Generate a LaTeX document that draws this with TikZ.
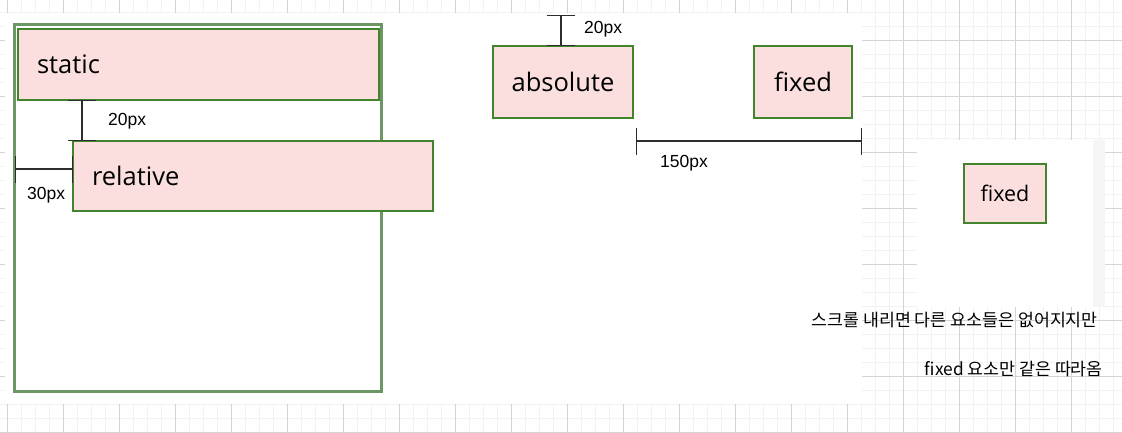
\documentclass[tikz,border=0pt]{standalone}
\usepackage{fontspec}
\setmainfont{Open Sans}
\newfontfamily\dimfont{Liberation Sans}
\newfontfamily\kofont{Noto Sans CJK KR}
\usepackage{tikz}
\usetikzlibrary{arrows.meta,positioning}
\definecolor{gridminor}{RGB}{242,242,242}
\definecolor{gridmajor}{RGB}{212,212,212}
\definecolor{boxfill}{RGB}{250,223,222}
\definecolor{boxline}{RGB}{66,132,44}
\definecolor{contline}{RGB}{108,150,100}
\definecolor{dimline}{RGB}{45,45,45}
\definecolor{stripe}{RGB}{245,245,245}

\begin{document}
\begin{tikzpicture}[x=1pt,y=-1pt,
  box/.style={draw=boxline,line width=2pt,fill=boxfill,outer sep=0pt,font=\fontsize{25.5}{30}\selectfont},
  dim/.style={draw=dimline,line width=1.3pt,{Bar[width=28pt]}-{Bar[width=28pt]}},
  dimlbl/.style={font=\dimfont\fontsize{17.5}{20}\selectfont,inner sep=0pt,anchor=west},
  kotxt/.style={font=\kofont\fontsize{17.3}{20}\selectfont,inner sep=0pt,anchor=east}]
\useasboundingbox (0,0) rectangle (1122,432);
% grid
\foreach \x in {7,21,...,1122} \draw[gridminor] (\x,0) -- (\x,432);
\foreach \y in {12,26,...,432} \draw[gridminor] (0,\y) -- (1122,\y);
\foreach \x in {7,63,...,1122} \draw[gridmajor] (\x,0) -- (\x,432);
\foreach \y in {40,96,...,432} \draw[gridmajor] (0,\y) -- (1122,\y);
% pages
\fill[white] (5,13) rectangle (862,404);
\fill[white] (917,140) rectangle (1093,307);
\fill[stripe] (1093,140) rectangle (1105,307);

\node[draw=contline,line width=3pt,minimum width=367pt,minimum height=367pt,outer sep=0pt,fill=white] (cont) at (198,208) {};
\node[box,text width=323pt,align=left,inner xsep=19pt,minimum height=71pt] (static) at (198.5,64.5) {static};
\node[box,text width=322pt,align=left,inner xsep=19pt,minimum height=70pt] (relative) at (253,176) {relative};
\node[box,minimum width=140pt,minimum height=72pt] (absolute) at (563,82) {absolute};
\node[box,minimum width=98pt,minimum height=72pt] (fixed) at (803,82) {fixed};
\node[box,minimum width=82pt,minimum height=59pt,font=\fontsize{21.5}{26}\selectfont] (fixedb) at (1005,193.5) {fixed};

% dimensions
\coordinate (d1) at (82,0);
\coordinate (d2) at (0,169);
\coordinate (d3) at (561,15);
\coordinate (d4a) at (636,141);
\coordinate (d4b) at (862,141);
\draw[dim] (static.south -| d1) -- (relative.north -| d1);
\draw[dim,{Bar[width=27pt]}-{Bar[width=27pt]}] (cont.west |- d2) -- (relative.west |- d2);
\draw[dim] (d3) -- (absolute.north -| d3);
\draw[dim,{Bar[width=27pt]}-{Bar[width=27pt]}] (d4a) -- (d4b);
\node[dimlbl] (l1) at (108,121) {20px};
\node[dimlbl] (l2) at (27,195) {30px};
\node[dimlbl] (l3) at (584,29) {20px};
\node[dimlbl] (l4) at (660,163) {150px};

\node[kotxt] (note1) at (1098,320) {스크롤 내리면 다른 요소들은 없어지지만};
\node[kotxt] (note2) at (1103,369) {fixed 요소만 같은 따라옴};
\end{tikzpicture}
\end{document}
